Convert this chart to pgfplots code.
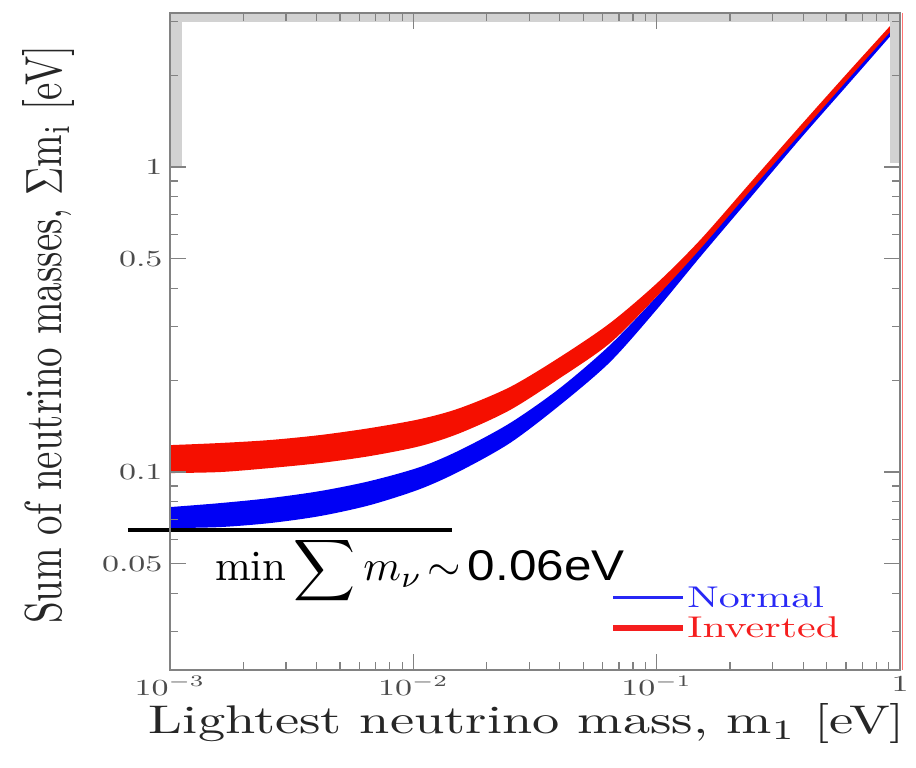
\documentclass[border=0pt]{standalone}
\usepackage{fontspec}
\setsansfont{Liberation Sans}
\usepackage{pgfplots}
\pgfplotsset{compat=1.18}
\usepgfplotslibrary{fillbetween}
\definecolor{bandred}{RGB}{245,15,0}
\definecolor{bandblue}{RGB}{0,0,245}
\definecolor{legblue}{RGB}{40,40,245}
\definecolor{legred}{RGB}{245,30,30}
\definecolor{axgray}{RGB}{130,130,130}
\definecolor{barg}{RGB}{210,210,210}
\newcommand\sx[1]{\scalebox{5.44}[4]{\fontsize{10}{12}\selectfont #1}}
\newcommand\sy[1]{\scalebox{3.9}[5.2]{\fontsize{10}{12}\selectfont #1}}
\newcommand\tx[1]{\scalebox{3.4}[2.3]{\fontsize{10}{12}\selectfont #1}}
\newcommand\lx[1]{\scalebox{4.2}[3]{\fontsize{10}{12}\selectfont #1}}
\pgfplotstableread{
x        nu      nl      iu      il
0.001    0.07677 0.06551 0.12255 0.09925
0.001605 0.07912 0.06601 0.12451 0.10000
0.002576 0.08216 0.06804 0.12736 0.10307
0.004134 0.08662 0.07173 0.13222 0.10703
0.006637 0.09344 0.07793 0.13938 0.11284
0.010654 0.10385 0.08795 0.14916 0.12163
0.01556  0.11807 0.10076 0.16216 0.13423
0.02496  0.14473 0.12451 0.19001 0.15972
0.04007  0.18858 0.16587 0.23823 0.20333
0.06433  0.26085 0.22946 0.30795 0.26483
0.1004   0.37768 0.34224 0.41657 0.37768
0.1508   0.54655 0.50688 0.57625 0.53837
0.2420   0.84713 0.79126 0.88621 0.83443
0.3885   1.3223  1.2354  1.3626  1.2830
0.6235   2.0029  1.8993  2.0797  1.9728
1.0      3.0570  2.9215  3.1508  3.0112
}\bands
\begin{document}
\begin{tikzpicture}
\begin{axis}[
  at={(0pt,0pt)}, anchor=south west,
  scale only axis, width=730pt, height=657pt,
  xmode=log, ymode=log,
  xmin=1e-3, xmax=1, ymin=0.02244, ymax=3.2,
  clip=false, axis on top,
  axis line style={axgray, line width=1.5pt},
  tick style={axgray, line width=1.2pt},
  major tick length=16pt, minor tick length=8pt,
  xtick={0.001,0.01,0.1,1},
  xticklabels={\tx{$10^{-3}$},\tx{$10^{-2}$},\tx{$10^{-1}$},\tx{1}},
  minor xtick={0.002,0.003,0.004,0.005,0.006,0.007,0.008,0.009,0.02,0.03,0.04,0.05,0.06,0.07,0.08,0.09,0.2,0.3,0.4,0.5,0.6,0.7,0.8,0.9},
  ytick={0.05,0.1,0.5,1},
  yticklabels={\tx{0.05},\tx{0.1},\tx{0.5},\tx{1}},
  minor ytick={0.03,0.04,0.06,0.07,0.08,0.09,0.2,0.3,0.4,0.6,0.7,0.8,0.9,2,3},
  ticklabel style={text=black!70},
  xticklabel style={yshift=-3pt},
  yticklabel style={xshift=-4pt},
  label style={text=black!85},
  xlabel={\sx{Lightest neutrino mass, m$_{\mathrm{1}}$ [eV]}},
  ylabel={\sy{Sum of neutrino masses, $\Sigma$m$_{\mathrm{i}}$ [eV]}},
  xlabel style={at={(axis description cs:0.489,-0.082)}, anchor=center},
  ylabel style={at={(axis description cs:-0.166,0.51)}, anchor=center},
  legend image code/.code={\draw[#1] (0pt,0pt) -- (70pt,0pt);},
  legend style={at={(axis description cs:0.603,0.129)}, anchor=north west,
    draw=none, fill=none, inner sep=0pt, row sep=6pt, nodes={inner sep=1pt}},
  legend cell align=left,
]
% grey bars along the frame
\fill[barg] (rel axis cs:0,0.7656) rectangle (rel axis cs:0.0164,1);
\fill[barg] (rel axis cs:0,0.986) rectangle (rel axis cs:1,1);
\fill[barg] (rel axis cs:0.986,0.772) rectangle (rel axis cs:1,1);
\draw[red!55, line width=1pt] (rel axis cs:1.004,0) -- (rel axis cs:1.004,1);

\addlegendimage{legblue, line width=3pt}
\addlegendentry{\textcolor{legblue}{\lx{Normal}}}
\addlegendimage{legred, line width=6pt}
\addlegendentry{\textcolor{legred}{\lx{Inverted}}}

% Normal ordering band
\addplot[name path=bu, draw=none, smooth, forget plot] table[x=x, y=nu] {\bands};
\addplot[name path=bl, draw=none, smooth, forget plot] table[x=x, y=nl] {\bands};
\addplot[bandblue, forget plot] fill between[of=bu and bl];

% Inverted ordering band
\addplot[name path=ru, draw=none, smooth, forget plot] table[x=x, y=iu] {\bands};
\addplot[name path=rl, draw=none, smooth, forget plot] table[x=x, y=il] {\bands};
\addplot[bandred, forget plot] fill between[of=ru and rl];

% minimum sum line
\addplot[black, line width=4pt, forget plot] coordinates {(6.72e-4,0.0645) (0.0144,0.0645)};

\node[anchor=west, inner sep=0pt] at (axis cs:0.00153,0.0477)
  {\scalebox{4.3}{\fontsize{10}{12}\selectfont $\mathrm{min}\displaystyle\sum m_\nu\!\sim$\,\scalebox{1.15}[1]{\sffamily 0.06eV}}};
\end{axis}
\path (-170pt,-98pt) rectangle (746pt,670pt);
\end{tikzpicture}
\end{document}
